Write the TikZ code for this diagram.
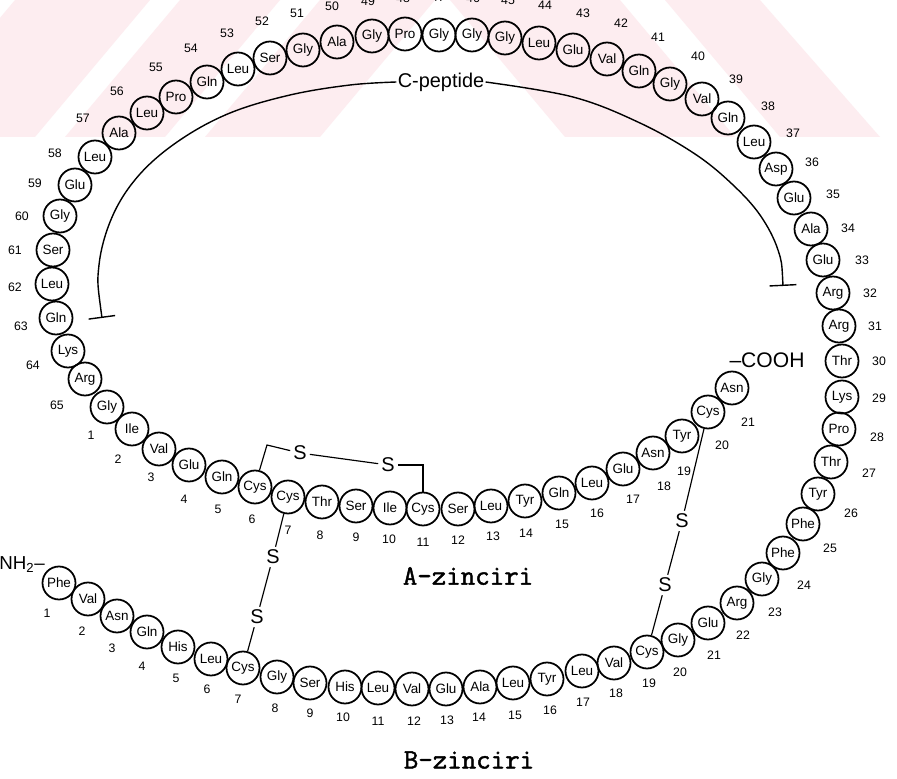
\documentclass[tikz,border=0pt]{standalone}
\usepackage{fontspec}
\setmainfont{Liberation Sans}
\newfontfamily\chainfont{Latin Modern Mono}[FakeBold=1.6]
\usetikzlibrary{arrows.meta}
\definecolor{wmark}{RGB}{253,237,240}

\begin{document}
\begin{tikzpicture}[
    x=0.3mm, y=-0.3mm,
    residue/.style={draw,circle,line width=1.5pt,minimum size=9.9mm,inner sep=0pt,font=\fontsize{11.5}{12}\selectfont},
    num/.style={inner sep=0pt,font=\fontsize{10.5}{11}\selectfont},
    sulfur/.style={inner sep=2.5pt,font=\fontsize{17}{18}\selectfont},
    term/.style={inner sep=0pt,font=\fontsize{18}{19}\selectfont},
    chain/.style={inner sep=0pt,font=\chainfont\fontsize{24}{25}\selectfont},
    bond/.style={line width=1pt},
    bracket/.style={line width=1.2pt,arrows={Bar[width=8mm]-}}
  ]
    \useasboundingbox (0,0) rectangle (897,779);
    \fill[white] (0,0) rectangle (897,779);
    % watermark stripes
    \fill[wmark] (-100,137) -- (35,137) -- (150,0) -- (15,0) -- cycle;
    \fill[wmark] (65,137) -- (165,137) -- (280,0) -- (180,0) -- cycle;
    \fill[wmark] (205,137) -- (320,137) -- (435,0) -- (320,0) -- cycle;
    \fill[wmark] (450,0) -- (620,0) -- (735,137) -- (565,137) -- cycle;
    \fill[wmark] (665,0) -- (760,0) -- (880,137) -- (780,137) -- cycle;
    % C-peptide 31-65
    \foreach \n/\x/\y/\res/\lx/\ly in {
        31/839/326/Arg/875/326, 32/833/293/Arg/870/293, 33/823/260/Glu/862/260,
        34/811/229/Ala/848/228, 35/794/198/Glu/833/194, 36/776/169/Asp/812/162,
        37/754/142/Leu/793/133, 38/728/118/Gln/768/106, 39/702/99/Val/736/79,
        40/670/84/Gly/698/56, 41/639/71/Gln/658/37, 42/607/59/Val/621/23,
        43/573/50/Glu/583/13, 44/539/43/Leu/545/5, 45/505/38/Gly/508/0,
        46/472/35/Gly/473/-2, 47/439/35/Gly/438/-3, 48/405/34/Pro/403/-2,
        49/372/36/Gly/368/1, 50/337/42/Ala/332/6, 51/303/50/Gly/297/13,
        52/270/58/Ser/262/21, 53/238/69/Leu/227/33, 54/207/82/Gln/191/48,
        55/176/97/Pro/156/67, 56/147/113/Leu/117/91, 57/119/133/Ala/83/118,
        58/95/157/Leu/55/153, 59/75/185/Glu/35/183, 60/60/216/Gly/22/216,
        61/53/250/Ser/15/250, 62/52/284/Leu/15/287, 63/56/318/Gln/21/326,
        64/68/351/Lys/33/365, 65/85/379/Arg/57/405}
      {\node[residue] (c\n) at (\x,\y) {\res};
       \node[num] (cn\n) at (\lx,\ly) {\n};}
    % A chain
    \foreach \n/\x/\y/\res/\lx/\ly in {
        1/107/407/Gly/91/435, 2/132/429/Ile/118/459, 3/159/449/Val/151/477,
        4/189/465/Glu/184/499, 5/222/477/Gln/218/509, 6/255/487/Cys/252/519,
        7/288/497/Cys/288/530, 8/322/502/Thr/320/535, 9/356/506/Ser/356/537,
        10/390/508/Ile/389/539, 11/423/509/Cys/423/542, 12/458/509/Ser/458/540,
        13/491/506/Leu/493/536, 14/525/501/Tyr/526/533, 15/559/493/Gln/562/524,
        16/592/483/Leu/597/513, 17/623/469/Glu/633/499, 18/653/453/Asn/664/486,
        19/682/436/Tyr/684/471, 20/708/412/Cys/722/445, 21/732/388/Asn/748/422}
      {\node[residue] (a\n) at (\x,\y) {\res};
       \node[num] (an\n) at (\lx,\ly) {\n};}
    % B chain
    \foreach \n/\x/\y/\res/\lx/\ly in {
        1/59/583/Phe/47/613, 2/88/599/Val/82/631, 3/117/616/Asn/112/648,
        4/147/632/Gln/142/666, 5/178/647/His/176/678, 6/211/659/Leu/207/689,
        7/243/668/Cys/238/699, 8/277/677/Gly/275/708, 9/310/683/Ser/310/713,
        10/345/687/His/343/717, 11/378/688/Leu/378/721, 12/412/689/Val/414/721,
        13/446/689/Glu/447/720, 14/480/687/Ala/479/717, 15/513/683/Leu/515/715,
        16/547/679/Tyr/550/710, 17/582/671/Leu/583/702, 18/614/663/Val/616/693,
        19/647/652/Cys/649/683, 20/678/640/Gly/680/672, 21/708/623/Glu/714/655,
        22/737/603/Arg/743/635, 23/762/579/Gly/775/612, 24/783/553/Phe/804/585,
        25/803/524/Phe/830/548, 26/818/494/Tyr/851/513, 27/831/462/Thr/869/473,
        28/839/429/Pro/877/437, 29/842/397/Lys/879/398, 30/842/361/Thr/879/361}
      {\node[residue] (b\n) at (\x,\y) {\res};
       \node[num] (bn\n) at (\lx,\ly) {\n};}
    % C-peptide bracket
    \node[inner sep=1pt,font=\fontsize{17}{18}\selectfont] (cpep) at (441,82) {C-peptide};
    \coordinate (cl) at (102,318);
    \coordinate (cr) at (783,286);
    \draw[bracket] plot[smooth,tension=0.6] coordinates {(cl) (99,265) (113,215) (140,174) (180,140) (230,113) (290,95) (350,85) (cpep.west)};
    \draw[bracket] plot[smooth,tension=0.6] coordinates {(cr) (778,250) (760,215) (732,184) (695,154) (640,123) (573,97) (cpep.east)};
    % disulfide bridges
    \node[sulfur] (s1) at (300,453) {S};
    \node[sulfur] (s2) at (388,465) {S};
    \node[sulfur] (s3) at (273,557) {S};
    \node[sulfur] (s4) at (257,617) {S};
    \node[sulfur] (s5) at (682,521) {S};
    \node[sulfur] (s6) at (665,585) {S};
    \draw[bond] (a6.75) -- (267,445) -- (s1);
    \draw[bond] (s1) -- (s2);
    \draw[bond] (s2) -| (a11);
    \draw[bond] (a7) -- (s3);
    \draw[bond] (s3) -- (s4);
    \draw[bond] (s4) -- (b7);
    \draw[bond] (a20) -- (s5);
    \draw[bond] (s5) -- (s6);
    \draw[bond] (s6) -- (b19);
    % ends and chain names
    \node[term] (cooh) at (767,360) {–COOH};
    \node[term,font=\fontsize{16}{17}\selectfont] (nh2) at (22,565) {NH\textsubscript{2}–};
    \node[chain] (achain) at (468,576) {A-zinciri};
    \node[chain] (bchain) at (469,760) {B-zinciri};
  \end{tikzpicture}
\end{document}
